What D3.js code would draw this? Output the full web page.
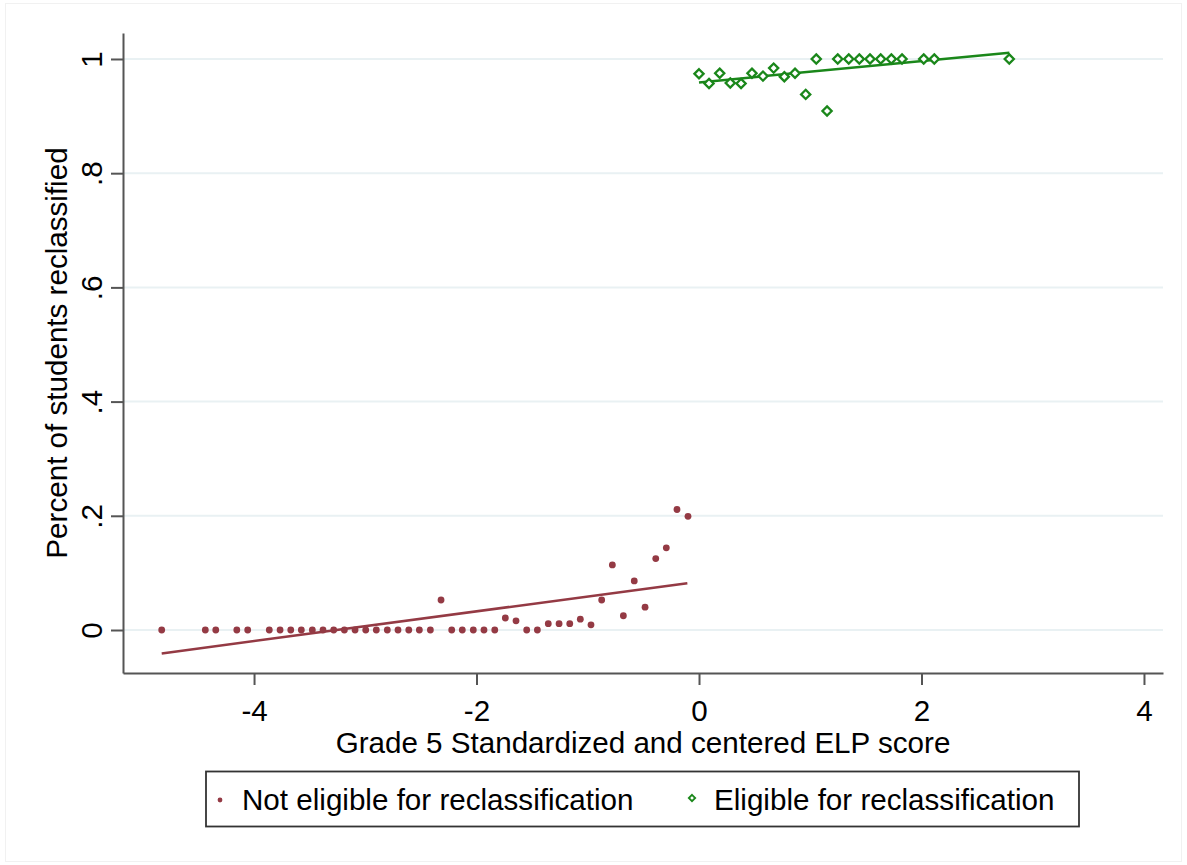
<!DOCTYPE html>
<html>
<head>
<meta charset="utf-8">
<script src="https://cdn.jsdelivr.net/npm/d3@7"></script>
<style>
  html, body { margin: 0; padding: 0; background: #fff; }
  svg { display: block; }
  text { font-family: "Liberation Sans", Arial, sans-serif; fill: #000; }
</style>
</head>
<body>
<svg id="chart" width="1187" height="865"></svg>
<script>
// Binned reclassification rates by centered Grade 5 ELP score
const notEligibleX = [-4.830, -4.438, -4.344, -4.155, -4.057, -3.863, -3.766, -3.670, -3.575, -3.476,
  -3.380, -3.284, -3.188, -3.092, -2.996, -2.901, -2.802, -2.706, -2.609, -2.514,
  -2.415, -2.319, -2.223, -2.128, -2.029, -1.933, -1.836, -1.741, -1.645, -1.549,
  -1.453, -1.355, -1.258, -1.162, -1.067, -0.971, -0.875, -0.779, -0.680, -0.582,
  -0.485, -0.389, -0.294, -0.198, -0.099];
const notEligibleY = [0, 0, 0, 0, 0, 0, 0, 0, 0, 0,
  0, 0, 0, 0, 0, 0, 0, 0, 0, 0,
  0, 0.0525, 0, 0, 0, 0, 0, 0.021, 0.016, 0,
  0, 0.011, 0.011, 0.011, 0.019, 0.009, 0.0525, 0.114, 0.025, 0.086,
  0.040, 0.125, 0.144, 0.211, 0.199];

const eligibleX = [0.000, 0.090, 0.186, 0.281, 0.378, 0.476, 0.575, 0.671, 0.767, 0.863,
  0.959, 1.054, 1.151, 1.247, 1.346, 1.441, 1.537, 1.633, 1.729, 1.825,
  2.020, 2.115, 2.789];
const eligibleY = [0.974, 0.957, 0.975, 0.958, 0.957, 0.975, 0.970, 0.984, 0.969, 0.975,
  0.938, 1, 0.909, 1, 1, 1, 1, 1, 1, 1,
  1, 1, 1];

// Linear fit endpoints for each side of the cutoff
const notEligibleFitX = [-4.83, -0.105];
const notEligibleFitY = [-0.041, 0.082];
const eligibleFitX = [0.0, 2.79];
const eligibleFitY = [0.959, 1.011];

const xTicks = [-4, -2, 0, 2, 4];
const yTicks = [0, 0.2, 0.4, 0.6, 0.8, 1];
const yTickLabels = ["0", ".2", ".4", ".6", ".8", "1"];

const xTitle = "Grade 5 Standardized and centered ELP score";
const yTitle = "Percent of students reclassified";
const legendLabels = ["Not eligible for reclassification", "Eligible for reclassification"];

const red = "#943a44";
const green = "#1a871a";
const axisColor = "#555";
const gridColor = "#e9f1f3";
const fontSize = 29.6;

const plot = { left: 123, right: 1163, top: 33, bottom: 673 };

const x = d3.scaleLinear().domain([-5.178, 4.171]).range([plot.left, plot.right]);
const y = d3.scaleLinear().domain([-0.0753, 1.0455]).range([plot.bottom, plot.top]);

const svg = d3.select("#chart");

// faint outer frame
svg.append("rect").attr("x", 5.5).attr("y", 3.5).attr("width", 1176).attr("height", 858)
  .attr("fill", "none").attr("stroke", "#f1f1f1").attr("stroke-width", 1);

// horizontal grid
svg.append("g").selectAll("line").data(yTicks).join("line")
  .attr("x1", plot.left).attr("x2", plot.right)
  .attr("y1", d => y(d)).attr("y2", d => y(d))
  .attr("stroke", gridColor).attr("stroke-width", 2);

// x axis
const xAxis = svg.append("g").attr("transform", `translate(0,${plot.bottom})`)
  .call(d3.axisBottom(x).tickValues(xTicks).tickSize(12).tickSizeOuter(0).tickPadding(15)
    .tickFormat(d => String(d)));
xAxis.select(".domain").attr("stroke", axisColor).attr("stroke-width", 2);
xAxis.selectAll(".tick line").attr("stroke", axisColor).attr("stroke-width", 2);
xAxis.selectAll(".tick text").attr("font-size", fontSize).attr("fill", "#000")
  .style("font-family", "'Liberation Sans', Arial, sans-serif");

// y axis
const yAxis = svg.append("g").attr("transform", `translate(${plot.left},0)`)
  .call(d3.axisLeft(y).tickValues(yTicks).tickSize(12).tickSizeOuter(0)
    .tickFormat((d, i) => yTickLabels[i]));
yAxis.select(".domain").attr("stroke", axisColor).attr("stroke-width", 2);
yAxis.selectAll(".tick line").attr("stroke", axisColor).attr("stroke-width", 2);
yAxis.selectAll(".tick text")
  .attr("x", null).attr("dy", null)
  .attr("text-anchor", "middle")
  .attr("transform", "translate(-21,0) rotate(-90)")
  .attr("font-size", fontSize).attr("fill", "#000")
  .style("font-family", "'Liberation Sans', Arial, sans-serif");

// axis titles
svg.append("text").attr("x", (plot.left + plot.right) / 2).attr("y", 753)
  .attr("text-anchor", "middle").attr("font-size", fontSize).text(xTitle);
svg.append("text").attr("transform", `translate(67,${(plot.top + plot.bottom) / 2}) rotate(-90)`)
  .attr("text-anchor", "middle").attr("font-size", fontSize).text(yTitle);

// fitted lines
const line = d3.line().x(d => x(d[0])).y(d => y(d[1]));
svg.append("path").datum(d3.zip(notEligibleFitX, notEligibleFitY))
  .attr("d", line).attr("fill", "none").attr("stroke", red).attr("stroke-width", 2.5);
svg.append("path").datum(d3.zip(eligibleFitX, eligibleFitY))
  .attr("d", line).attr("fill", "none").attr("stroke", green).attr("stroke-width", 2.5);

// not eligible: small filled circles
svg.append("g").selectAll("circle").data(d3.zip(notEligibleX, notEligibleY)).join("circle")
  .attr("cx", d => x(d[0])).attr("cy", d => y(d[1])).attr("r", 3.4)
  .attr("fill", red);

// eligible: hollow diamonds
const diamond = s => `M0,${-s}L${s},0L0,${s}L${-s},0Z`;
svg.append("g").selectAll("path").data(d3.zip(eligibleX, eligibleY)).join("path")
  .attr("transform", d => `translate(${x(d[0])},${y(d[1])})`)
  .attr("d", diamond(4.6))
  .attr("fill", "#fff").attr("stroke", green).attr("stroke-width", 2.3);

// legend
const lg = svg.append("g");
lg.append("rect").attr("x", 206).attr("y", 771.5).attr("width", 873).attr("height", 55)
  .attr("fill", "#fff").attr("stroke", "#333").attr("stroke-width", 1.8);
lg.append("circle").attr("cx", 220).attr("cy", 800).attr("r", 2.4).attr("fill", red);
lg.append("text").attr("x", 242).attr("y", 810).attr("font-size", fontSize).text(legendLabels[0]);
lg.append("path").attr("transform", "translate(692,798)").attr("d", diamond(3.2))
  .attr("fill", "#fff").attr("stroke", green).attr("stroke-width", 1.8);
lg.append("text").attr("x", 714).attr("y", 810).attr("font-size", fontSize).text(legendLabels[1]);
</script>
</body>
</html>
